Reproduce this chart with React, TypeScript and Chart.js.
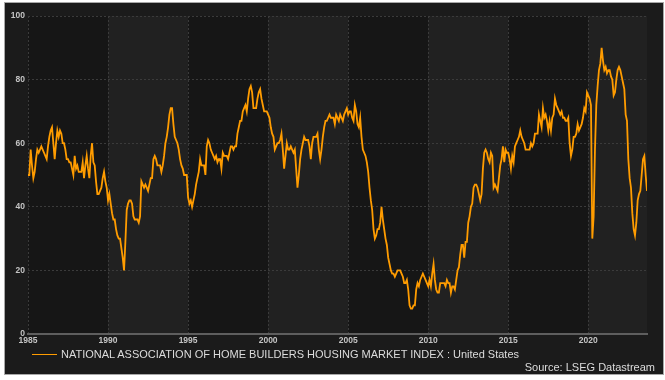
import React, { useEffect, useRef } from "react";
import { Chart, registerables } from "chart.js";

Chart.register(...registerables);

// Monthly NAHB Housing Market Index, starting January 1985
const START_YEAR = 1985;
const hmi1985to1989 = [
  50, 50, 58, 53, 49, 51, 55, 58, 57, 58, 59, 58,
  57, 56, 55, 59, 62, 64, 65, 60, 55, 60, 64, 62,
  64, 63, 60, 60, 58, 55, 55, 54, 54, 52, 50, 56,
  52, 53, 51, 51, 51, 54, 49, 53, 56, 52, 49, 56,
  60, 54, 53, 48, 44, 44, 45, 46, 49, 51, 48, 46,
];
const hmi1990to1994 = [
  42, 44, 41, 38, 36, 36, 33, 31, 30, 30, 27, 24,
  20, 29, 39, 41, 42, 42, 41, 37, 36, 36, 36, 35,
  37, 48, 47, 46, 47, 46, 45, 47, 49, 49, 55, 56,
  55, 53, 53, 53, 51, 53, 56, 60, 62, 65, 69, 71,
  71, 66, 62, 61, 60, 58, 55, 53, 52, 50, 50, 50,
];
const hmi1995to1999 = [
  43, 41, 42, 40, 42, 44, 47, 49, 51, 55, 53, 53,
  53, 50, 59, 61, 60, 58, 57, 56, 55, 56, 54, 55,
  55, 52, 57, 56, 56, 56, 55, 57, 59, 59, 58, 59,
  59, 63, 65, 67, 67, 70, 71, 72, 70, 74, 77, 78,
  76, 71, 71, 71, 74, 76, 77, 74, 72, 70, 70, 70,
];
const hmi2000to2004 = [
  69, 68, 65, 63, 62, 58, 59, 60, 60, 61, 63, 58,
  52, 56, 60, 58, 58, 59, 58, 57, 58, 52, 46, 50,
  55, 58, 60, 62, 61, 61, 61, 59, 55, 60, 62, 62,
  62, 63, 58, 55, 58, 62, 65, 67, 67, 68, 69, 68,
  68, 68, 66, 69, 68, 67, 69, 68, 67, 69, 70, 71,
];
const hmi2005to2009 = [
  69, 70, 70, 68, 67, 72, 70, 66, 65, 68, 62, 58,
  57, 56, 54, 51, 46, 42, 39, 33, 30, 31, 33, 33,
  35, 40, 36, 33, 30, 28, 24, 22, 20, 19, 19, 18,
  19, 20, 20, 20, 19, 18, 16, 16, 17, 14, 9, 8,
  8, 9, 9, 14, 16, 15, 17, 18, 19, 18, 17, 16,
];
const hmi2010to2014 = [
  15, 17, 15, 19, 22, 17, 14, 13, 13, 16, 16, 16,
  16, 15, 17, 16, 16, 13, 15, 15, 14, 17, 20, 21,
  25, 28, 28, 24, 29, 29, 35, 37, 40, 41, 46, 47,
  47, 46, 44, 42, 44, 52, 57, 58, 57, 55, 54, 57,
  56, 46, 47, 46, 45, 49, 53, 55, 59, 54, 58, 57,
];
const hmi2015to2019 = [
  57, 55, 52, 56, 54, 59, 60, 61, 62, 64, 62, 61,
  60, 58, 58, 58, 58, 60, 59, 60, 63, 63, 63, 69,
  67, 65, 71, 68, 69, 67, 64, 67, 64, 68, 69, 74,
  72, 71, 70, 69, 70, 68, 68, 67, 67, 68, 60, 56,
  58, 62, 62, 63, 66, 64, 65, 66, 68, 71, 70, 76,
];
const hmi2020to2023 = [
  75, 74, 72, 30, 37, 58, 72, 78, 83, 85, 90, 86,
  83, 84, 82, 83, 83, 81, 80, 75, 76, 80, 83, 84,
  83, 81, 79, 77, 69, 67, 55, 49, 46, 38, 33, 31,
  35, 42, 44, 45, 50, 55, 56, 50, 45,
];

const X_TICK_STEP = 5;
const Y_MIN = 0;
const Y_MAX = 100;
const Y_TICK_STEP = 20;
const SERIES_LABEL =
  "NATIONAL ASSOCIATION OF HOME BUILDERS HOUSING MARKET INDEX : United States";
const SOURCE_TEXT = "Source: LSEG Datastream";

const LINE_COLOR = "#ff9c00";
const GRID_COLOR = "#3b3b3b";
const TICK_COLOR = "#c4c4c4";
const FONT = "'Liberation Sans', Arial, sans-serif";

const allValues = [
  ...hmi1985to1989,
  ...hmi1990to1994,
  ...hmi1995to1999,
  ...hmi2000to2004,
  ...hmi2005to2009,
  ...hmi2010to2014,
  ...hmi2015to2019,
  ...hmi2020to2023,
];

const bandsPlugin = {
  id: "bands",
  beforeDraw(chart: any) {
    const { ctx, chartArea: a, scales } = chart;
    const x = scales.x;
    ctx.save();
    ctx.fillStyle = "#161616";
    ctx.fillRect(a.left, a.top, a.right - a.left, a.bottom - a.top);
    ctx.fillStyle = "#212121";
    const ticks = x.ticks;
    ticks.forEach((t: any, i: number) => {
      if (i % 2 === 1) {
        const x0 = x.getPixelForValue(t.value);
        const x1 =
          i + 1 < ticks.length ? x.getPixelForValue(ticks[i + 1].value) : a.right;
        ctx.fillRect(x0, a.top, x1 - x0, a.bottom - a.top);
      }
    });
    ctx.restore();
  },
};

export default function App() {
  const ref = useRef<HTMLCanvasElement>(null);

  useEffect(() => {
    if (!ref.current) return;
    const points = allValues.map((v, i) => ({ x: START_YEAR + i / 12, y: v }));
    const lastX = points[points.length - 1].x;
    const chart = new Chart(ref.current, {
      type: "line",
      data: {
        datasets: [
          {
            label: SERIES_LABEL,
            data: points,
            borderColor: LINE_COLOR,
            borderWidth: 1.8,
            pointRadius: 0,
            tension: 0,
            fill: false,
          },
        ],
      },
      options: {
        animation: false,
        responsive: false,
        maintainAspectRatio: false,
        layout: { padding: { left: 0, top: 13, right: 16, bottom: 0 } },
        plugins: {
          legend: { display: false },
          tooltip: { enabled: false },
        },
        scales: {
          x: {
            type: "linear",
            min: START_YEAR,
            max: lastX,
            ticks: {
              stepSize: X_TICK_STEP,
              includeBounds: false,
              autoSkip: false,
              maxRotation: 0,
              color: TICK_COLOR,
              padding: 2,
              font: { family: FONT, size: 8.5, weight: "bold" },
              callback: (v: any) => String(v),
            },
            grid: { color: GRID_COLOR, lineWidth: 1, drawTicks: false },
            border: { display: true, color: "#5e5e5e", width: 2, dash: [2, 2] },
            afterFit: (s: any) => {
              s.height = 40;
            },
          },
          y: {
            min: Y_MIN,
            max: Y_MAX,
            ticks: {
              stepSize: Y_TICK_STEP,
              color: TICK_COLOR,
              padding: 3,
              font: { family: FONT, size: 8.5, weight: "bold" },
            },
            grid: { color: GRID_COLOR, lineWidth: 1, drawTicks: false },
            border: { display: false, dash: [2, 2] },
            afterFit: (s: any) => {
              s.width = 23;
            },
          },
        },
      },
      plugins: [bandsPlugin],
    } as any);
    return () => chart.destroy();
  }, []);

  return (
    <div
      style={{
        position: "fixed",
        left: 0,
        top: 0,
        width: 665,
        height: 380,
        background: "#ffffff",
      }}
    >
      <div
        style={{
          position: "absolute",
          left: 4,
          top: 2,
          width: 658,
          height: 371,
          border: "1px solid #a8a8a8",
          background: "#1b1b1b",
        }}
      >
        <canvas
          ref={ref}
          width={658}
          height={371}
          style={{ position: "absolute", left: 0, top: 0, width: 658, height: 371 }}
        />
        <div
          style={{
            position: "absolute",
            left: 27,
            top: 351,
            width: 25,
            height: 0,
            borderTop: `1.5px solid ${LINE_COLOR}`,
          }}
        />
        <div
          style={{
            position: "absolute",
            left: 56,
            top: 345,
            fontFamily: FONT,
            fontSize: 11,
            lineHeight: "12px",
            color: "#dcdcdc",
            whiteSpace: "nowrap",
          }}
        >
          {SERIES_LABEL}
        </div>
        <div
          style={{
            position: "absolute",
            right: 8,
            top: 358,
            fontFamily: FONT,
            fontSize: 11,
            lineHeight: "12px",
            color: "#dcdcdc",
            whiteSpace: "nowrap",
          }}
        >
          {SOURCE_TEXT}
        </div>
      </div>
    </div>
  );
}
